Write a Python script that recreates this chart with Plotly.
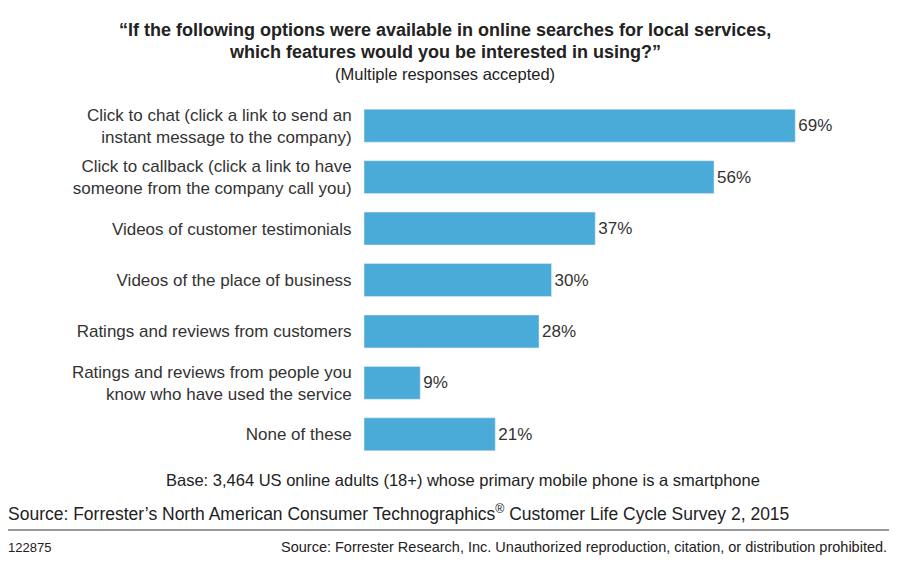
import plotly.graph_objects as go

categories = [
    "Click to chat (click a link to send an<br>instant message to the company)",
    "Click to callback (click a link to have<br>someone from the company call you)",
    "Videos of customer testimonials",
    "Videos of the place of business",
    "Ratings and reviews from customers",
    "Ratings and reviews from people you<br>know who have used the service",
    "None of these",
]
values = [69, 56, 37, 30, 28, 9, 21]

FONT = "Liberation Sans, Arial, sans-serif"
OFF = 8  # page body margin
L, T, B = 364 - OFF, 100 - OFF, 565 - (460 - OFF)
fig = go.Figure(go.Bar(
    y=categories, x=values, orientation="h",
    marker=dict(color="#4BABD8"),
    text=[f"{v}%" for v in values], textposition="outside",
    textfont=dict(size=17, color="#333"), cliponaxis=False,
))
fig.update_layout(
    width=900, height=565, plot_bgcolor="white", paper_bgcolor="white",
    margin=dict(l=L, r=0, t=T, b=B), bargap=0.36,
    font=dict(family=FONT, size=17, color="#333"),
    xaxis=dict(range=[0, (900 - L) / 6.25], visible=False),
    yaxis=dict(autorange="reversed", showline=False, ticks="outside", ticklen=8, tickcolor="white",
               tickfont=dict(size=17, color="#333")),
    showlegend=False,
)
PW, PH = 900 - L, 565 - T - B
def px(x): return (x - OFF - L) / PW
def py(y): return (565 - B - (y - OFF)) / PH

ann = [
    (445, 30, "<b>“If the following options were available in online searches for local services,</b>", 18),
    (445, 52, "<b>which features would you be interested in using?”</b>", 18),
    (445, 74, "(Multiple responses accepted)", 16.5),
    (463, 480, "Base: 3,464 US online adults (18+) whose primary mobile phone is a smartphone", 16.5),
]
for x, y, t, s in ann:
    fig.add_annotation(x=px(x), y=py(y), xref="paper", yref="paper", xanchor="center", yanchor="middle",
                       text=t, showarrow=False, font=dict(size=s, color="#222"))
fig.add_annotation(x=px(6), y=py(513), xref="paper", yref="paper", xanchor="left", yanchor="middle",
                   text="Source: Forrester’s North American Consumer Technographics<sup>®</sup> Customer Life Cycle Survey 2, 2015",
                   showarrow=False, font=dict(size=17.5, color="#222"))
fig.add_annotation(x=px(6), y=py(547), xref="paper", yref="paper", xanchor="left", yanchor="middle",
                   text="122875", showarrow=False, font=dict(size=13, color="#222"))
fig.add_annotation(x=px(889), y=py(547), xref="paper", yref="paper", xanchor="right", yanchor="middle",
                   text="Source: Forrester Research, Inc. Unauthorized reproduction, citation, or distribution prohibited.",
                   showarrow=False, font=dict(size=14.5, color="#222"))
fig.add_shape(type="line", xref="paper", yref="paper", x0=px(0), x1=px(889), y0=py(530), y1=py(530),
              line=dict(color="#777", width=1.5))
fig.write_html("out.html")
